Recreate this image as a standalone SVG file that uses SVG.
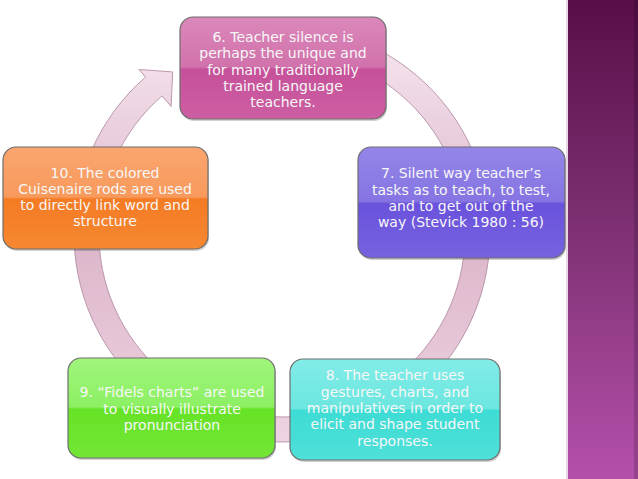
<svg xmlns="http://www.w3.org/2000/svg" width="638" height="479" viewBox="0 0 638 479">
<defs>
<linearGradient id="ringG" x1="0" y1="0" x2="0" y2="1">
<stop offset="0" stop-color="#f7e6f0"/>
<stop offset="0.5" stop-color="#dcb6ca"/>
<stop offset="1" stop-color="#eed3e2"/>
</linearGradient>
<linearGradient id="panelG" x1="0" y1="0" x2="0" y2="1">
<stop offset="0" stop-color="#5a0e48"/>
<stop offset="0.45" stop-color="#7c2f70"/>
<stop offset="1" stop-color="#b44faa"/>
</linearGradient>
<linearGradient id="gPink" x1="0" y1="0" x2="0" y2="1">
<stop offset="0" stop-color="#db88bb"/>
<stop offset="0.49" stop-color="#d172ab"/>
<stop offset="0.51" stop-color="#c6519a"/>
<stop offset="1" stop-color="#cd5ea2"/>
</linearGradient>
<linearGradient id="gPurple" x1="0" y1="0" x2="0" y2="1">
<stop offset="0" stop-color="#9486e8"/>
<stop offset="0.49" stop-color="#8574e2"/>
<stop offset="0.51" stop-color="#6a52dc"/>
<stop offset="1" stop-color="#7662df"/>
</linearGradient>
<linearGradient id="gOrange" x1="0" y1="0" x2="0" y2="1">
<stop offset="0" stop-color="#faa570"/>
<stop offset="0.49" stop-color="#f89a5c"/>
<stop offset="0.51" stop-color="#f47b24"/>
<stop offset="1" stop-color="#f68831"/>
</linearGradient>
<linearGradient id="gGreen" x1="0" y1="0" x2="0" y2="1">
<stop offset="0" stop-color="#a0f57c"/>
<stop offset="0.49" stop-color="#8cf063"/>
<stop offset="0.51" stop-color="#66e326"/>
<stop offset="1" stop-color="#74e636"/>
</linearGradient>
<linearGradient id="gTeal" x1="0" y1="0" x2="0" y2="1">
<stop offset="0" stop-color="#82ece7"/>
<stop offset="0.49" stop-color="#6ce6e0"/>
<stop offset="0.51" stop-color="#3ddcd4"/>
<stop offset="1" stop-color="#4fe0d9"/>
</linearGradient>
</defs>
<style>
.box{stroke:#6e6e6e;stroke-width:1.2}
.shadow{fill:#000;opacity:0.18}
.t{font-family:"DejaVu Sans","Liberation Sans",sans-serif;font-size:14px;fill:#f7f7f7;text-anchor:middle}
</style>
<rect x="0" y="0" width="638" height="479" fill="#ffffff"/>
<g id="panel">
<rect x="566" y="0" width="3" height="479" fill="#e9d7e6"/>
<rect x="568" y="0" width="70" height="479" fill="url(#panelG)"/>
<rect x="634" y="0" width="4" height="479" fill="#000" opacity="0.15"/>
</g>
<g id="connectors">
<path d="M335.83,33.09 A208,208 0 1 1 145.54,77.02 L138.98,69.47 L172.68,71.92 L171.13,106.45 L161.94,95.89 A183,183 0 1 0 329.36,57.23 Z" fill="url(#ringG)" stroke="#b48fa4" stroke-width="0.9"/>
</g>
<g id="node6">
<rect class="shadow" x="181" y="19" width="206" height="102" rx="13"/>
<rect class="box" x="180" y="17" width="206" height="102" rx="13" fill="url(#gPink)"/>
<text class="t" x="283" y="42">6. Teacher silence is</text>
<text class="t" x="283" y="58.3">perhaps the unique and</text>
<text class="t" x="283" y="74.6">for many traditionally</text>
<text class="t" x="283" y="90.9">trained language</text>
<text class="t" x="283" y="107.2">teachers.</text>
</g>
<g id="node7">
<rect class="shadow" x="359" y="149" width="207" height="111" rx="13"/>
<rect class="box" x="358" y="147" width="207" height="111" rx="13" fill="url(#gPurple)"/>
<text class="t" x="461" y="178">7. Silent way teacher’s</text>
<text class="t" x="461" y="194.5">tasks as to teach, to test,</text>
<text class="t" x="461" y="211">and to get out of the</text>
<text class="t" x="461" y="227">way (Stevick 1980 : 56)</text>
</g>
<g id="node8">
<rect class="shadow" x="291" y="361" width="210" height="101" rx="13"/>
<rect class="box" x="290" y="359" width="210" height="101" rx="13" fill="url(#gTeal)"/>
<text class="t" x="395" y="380">8. The teacher uses</text>
<text class="t" x="395" y="396.5">gestures, charts, and</text>
<text class="t" x="395" y="413">manipulatives in order to</text>
<text class="t" x="395" y="429">elicit and shape student</text>
<text class="t" x="395" y="446">responses.</text>
</g>
<g id="node9">
<rect class="shadow" x="69" y="360" width="207" height="100" rx="13"/>
<rect class="box" x="68" y="358" width="207" height="100" rx="13" fill="url(#gGreen)"/>
<text class="t" x="172" y="397">9. “Fidels charts” are used</text>
<text class="t" x="172" y="413.5">to visually illustrate</text>
<text class="t" x="172" y="430">pronunciation</text>
</g>
<g id="node10">
<rect class="shadow" x="4" y="149" width="205" height="102" rx="13"/>
<rect class="box" x="3" y="147" width="205" height="102" rx="13" fill="url(#gOrange)"/>
<text class="t" x="105" y="177.5">10. The colored</text>
<text class="t" x="105" y="194">Cuisenaire rods are used</text>
<text class="t" x="105" y="210">to directly link word and</text>
<text class="t" x="105" y="226">structure</text>
</g>
</svg>
